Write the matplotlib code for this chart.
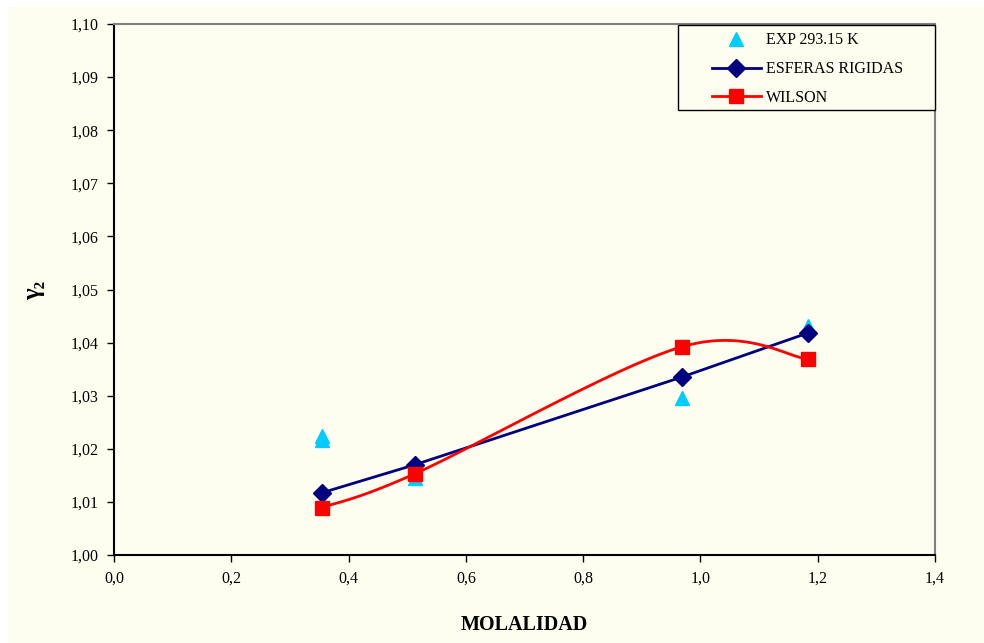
import numpy as np
import matplotlib
matplotlib.use("Agg")
import matplotlib.pyplot as plt
from matplotlib.patches import Rectangle
from matplotlib.ticker import FuncFormatter

# molality and gamma_2 values
exp_m = [0.354, 0.354, 0.513, 0.968, 1.183, 1.183]
exp_g = [1.0224, 1.0217, 1.0145, 1.0296, 1.0431, 1.0427]
hs_m = [0.354, 0.513, 0.968, 1.183]
hs_g = [1.0117, 1.0170, 1.0335, 1.0418]
wil_m = [0.354, 0.513, 0.968, 1.183]
wil_g = [1.0089, 1.0153, 1.0392, 1.0369]

IVORY = "#FEFEF0"
plt.rcParams["font.family"] = ["Liberation Serif", "DejaVu Serif"]


def smooth(x, y, n=40):
    # Catmull-Rom style bezier through points (spreadsheet "smoothed line")
    p = np.column_stack([x, y]).astype(float)
    ext = np.vstack([p[0], p, p[-1]])
    out = []
    t = np.linspace(0, 1, n)[:, None]
    for i in range(len(p) - 1):
        p0, p1, p2, p3 = ext[i], ext[i + 1], ext[i + 2], ext[i + 3]
        c1 = p1 + (p2 - p0) / 6
        c2 = p2 - (p3 - p1) / 6
        seg = ((1 - t) ** 3) * p1 + 3 * ((1 - t) ** 2) * t * c1 + 3 * (1 - t) * t ** 2 * c2 + t ** 3 * p2
        out.append(seg if i == 0 else seg[1:])
    s = np.vstack(out)
    return s[:, 0], s[:, 1]


fig = plt.figure(figsize=(9.84, 6.43), dpi=100, facecolor="white")
fig.patches.append(Rectangle((8 / 984, 0), 1, 1 - 7 / 643, transform=fig.transFigure,
                             facecolor=IVORY, edgecolor="none", zorder=-10))
ax = fig.add_axes([114 / 984, 1 - 555 / 643, 821 / 984, 531 / 643])
ax.set_facecolor(IVORY)

ax.plot(exp_m, exp_g, linestyle="none", marker="^", markersize=10,
        color="#00CCFF", label="EXP 293.15 K", zorder=3)
ax.plot(hs_m, hs_g, color="#000080", linewidth=2, marker="D", markersize=9,
        label="ESFERAS RIGIDAS", zorder=4)
sx, sy = smooth(wil_m, wil_g)
ax.plot(sx, sy, color="#FF0000", linewidth=2, zorder=5)
ax.plot(wil_m, wil_g, linestyle="none", marker="s", markersize=10, color="#FF0000", zorder=5)
ax.plot([], [], color="#FF0000", linewidth=2, marker="s", markersize=10, label="WILSON")

ax.set_xlim(0, 1.4)
ax.set_ylim(1.0, 1.1)
ax.set_xticks(np.arange(0, 1.41, 0.2))
ax.set_yticks(np.arange(1.0, 1.1001, 0.01))
ax.xaxis.set_major_formatter(FuncFormatter(lambda v, _: f"{v:.1f}".replace(".", ",")))
ax.yaxis.set_major_formatter(FuncFormatter(lambda v, _: f"{v:.2f}".replace(".", ",")))
ax.tick_params(axis="both", direction="out", length=5, width=1, labelsize=11.5, pad=6)
for side in ("left", "bottom"):
    ax.spines[side].set_color("black")
    ax.spines[side].set_linewidth(1.5)
for side in ("top", "right"):
    ax.spines[side].set_color("#808080")
    ax.spines[side].set_linewidth(1.5)

ax.set_xlabel("MOLALIDAD", fontsize=14.5, fontweight="bold", labelpad=21)
fig.text(34 / 984, 1 - 290 / 643, "γ₂", rotation=90, fontsize=18, fontweight="bold",
         ha="center", va="center")

# legend box drawn separately so its padding can be set freely
box = (0.687, 0.838, 0.313, 0.160)
ax.add_patch(Rectangle(box[:2], box[2], box[3], transform=ax.transAxes, facecolor=IVORY,
                       edgecolor="black", linewidth=1, zorder=8, clip_on=False))
leg = ax.legend(loc="center", bbox_to_anchor=(box[0] + box[2] / 2 + 0.001, box[1] + box[3] / 2 - 0.003),
                fontsize=11.5, handlelength=3.1, labelspacing=0.8, borderpad=0,
                frameon=False, handletextpad=0.3)
leg.set_zorder(9)

fig.savefig("out.png", dpi=100, facecolor=fig.get_facecolor())
